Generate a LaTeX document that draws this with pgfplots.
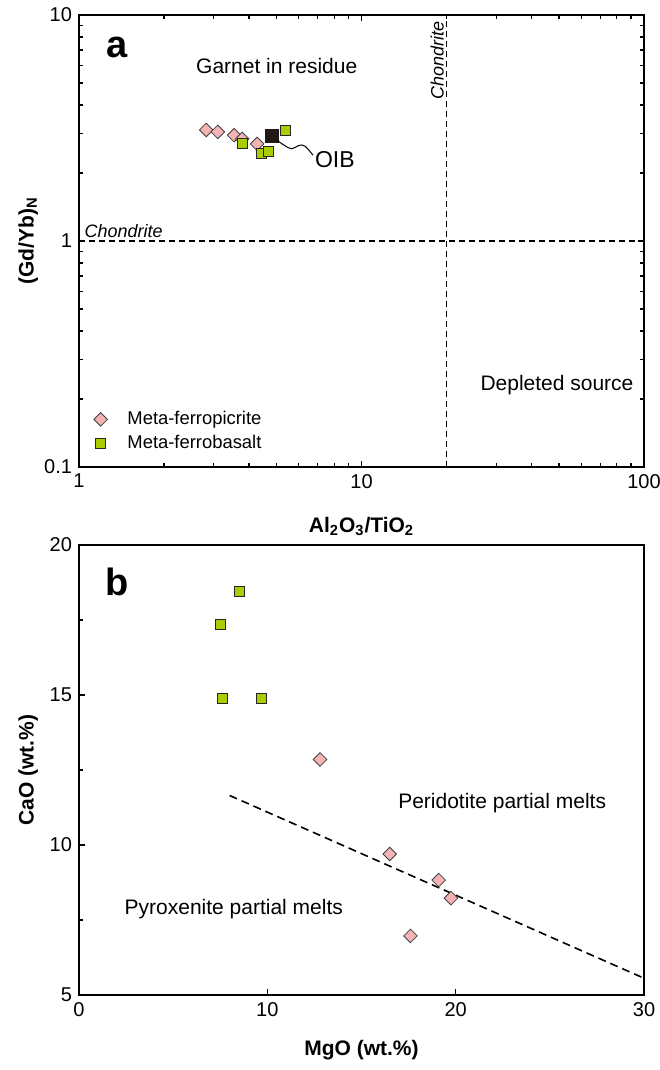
\documentclass[border=0pt]{standalone}
\usepackage{pgfplots}
\pgfplotsset{compat=1.18}
\usepackage{fontspec}
\setmainfont{Liberation Sans}

\definecolor{picfill}{RGB}{244,180,182}
\definecolor{basfill}{RGB}{170,204,0}
\definecolor{oibfill}{RGB}{35,24,21}

\pgfplotsset{
  panel/.style={
    scale only axis,
    width=282.5pt,
    tick align=inside,
    major tick length=3pt,
    minor tick length=2pt,
    axis line style={line width=0.8pt},
    every tick/.style={line width=0.6pt, black},
    tick label style={font=\fontsize{10}{12}\selectfont},
    label style={font=\bfseries\fontsize{10.5}{12}\selectfont},
    /pgf/number format/assume math mode=true,
    clip=false,
  },
  picrite/.style={only marks, mark=square*, mark size=2.4pt,
    mark options={rotate=45, fill=picfill, draw=black!75, line width=0.4pt}},
  basalt/.style={only marks, mark=square*, mark size=2.5pt,
    mark options={fill=basfill, draw=black!85, line width=0.5pt}},
}

\begin{document}
\begin{tikzpicture}
\path[use as bounding box] (0,0) rectangle (329.5pt,-535pt);

% ---------- panel a: (Gd/Yb)N vs Al2O3/TiO2 ----------
\begin{axis}[panel,
  at={(39.5pt,-233.5pt)}, anchor=south west,
  height=226pt,
  xmode=log, ymode=log,
  xmin=1, xmax=100, ymin=0.1, ymax=10,
  xtick={1,10,100}, xticklabels={1,10,100},
  ytick={0.1,1,10}, yticklabels={0.1,1,10},
  xlabel={Al\textsubscript{2}O\textsubscript{3}/TiO\textsubscript{2}},
  ylabel={(Gd/Yb)\textsubscript{N}},
  xlabel style={at={(axis description cs:0.5,-0.132)}, anchor=center},
  ylabel style={at={(axis description cs:-0.090,0.5)}, anchor=center},
  legend style={at={(0.015,0.142)}, anchor=north west, draw=none, fill=none,
    font=\fontsize{9.2}{11}\selectfont, row sep=0pt},
  legend cell align=left,
]
% chondrite reference lines
\addplot[forget plot, line width=0.6pt, dash pattern=on 3pt off 2pt] coordinates {(1,1) (100,1)};
\addplot[forget plot, line width=0.6pt, dash pattern=on 3pt off 2pt] coordinates {(20,0.1) (20,10)};

\addplot[picrite] coordinates {
  (2.82,3.10) (3.10,3.04) (3.54,2.94) (3.78,2.83) (4.27,2.69)
};
\addlegendentry{\hspace{8pt}Meta-ferropicrite}
\addplot[basalt] coordinates {
  (3.78,2.69) (4.41,2.45) (4.67,2.48) (5.40,3.07)
};
\addlegendentry{\hspace{8pt}Meta-ferrobasalt}
% OIB
\addplot[forget plot, only marks, mark=square*, mark size=3.2pt,
  mark options={fill=oibfill, draw=oibfill}] coordinates {(4.82,2.91)};
\coordinate (oib) at (axis cs:4.82,2.91);

\node[font=\bfseries\fontsize{19}{20}\selectfont] at (rel axis cs:0.067,0.929) {a};
\node[font=\fontsize{10.5}{12}\selectfont] at (rel axis cs:0.350,0.887) {Garnet in residue};
\node[font=\fontsize{10.5}{12}\selectfont] at (rel axis cs:0.846,0.181) {Depleted source};
\node[font=\itshape\fontsize{9}{10}\selectfont, anchor=west, xshift=-3pt] at (rel axis cs:0.008,0.523) {Chondrite};
\node[font=\itshape\fontsize{9}{10}\selectfont, rotate=90] at (rel axis cs:0.634,0.900) {Chondrite};
\end{axis}

% leader from the OIB point to its label
\begin{scope}[shift={(oib)}]
  \draw[line width=0.5pt] plot[smooth, tension=0.6] coordinates
    {(2.5pt,-2pt) (6.5pt,-4.8pt) (10pt,-6.3pt) (13.5pt,-4.6pt) (16.5pt,-5pt) (20.5pt,-9.5pt)};
  \node[font=\fontsize{11.5}{13}\selectfont, anchor=west] at (18pt,-11.5pt) {OIB};
\end{scope}

% ---------- panel b: CaO vs MgO ----------
\begin{axis}[panel,
  at={(39.5pt,-497.5pt)}, anchor=south west,
  height=225pt,
  xmin=0, xmax=30, ymin=5, ymax=20,
  xtick={0,10,20,30}, ytick={5,10,15,20},
  minor ytick={7.5,12.5,17.5},
  xtick pos=bottom, ytick pos=left,
  xlabel={MgO (wt.\%)},
  ylabel={CaO (wt.\%)},
  xlabel style={at={(axis description cs:0.5,-0.122)}, anchor=center},
  ylabel style={at={(axis description cs:-0.090,0.5)}, anchor=center},
]
\addplot[forget plot, line width=0.8pt, dash pattern=on 4pt off 2.5pt] coordinates {(8,11.65) (30,5.56)};
\addplot[basalt] coordinates {
  (8.5,18.45) (7.5,17.35) (7.6,14.9) (9.7,14.9)
};
\addplot[picrite] coordinates {
  (12.8,12.85) (16.5,9.7) (19.1,8.83) (19.75,8.23) (17.6,6.97)
};
\node[font=\bfseries\fontsize{19}{20}\selectfont] at (rel axis cs:0.067,0.918) {b};
\node[font=\fontsize{10.5}{12}\selectfont] at (rel axis cs:0.749,0.427) {Peridotite partial melts};
\node[font=\fontsize{10.5}{12}\selectfont] at (rel axis cs:0.274,0.190) {Pyroxenite partial melts};
\end{axis}
\end{tikzpicture}
\end{document}
